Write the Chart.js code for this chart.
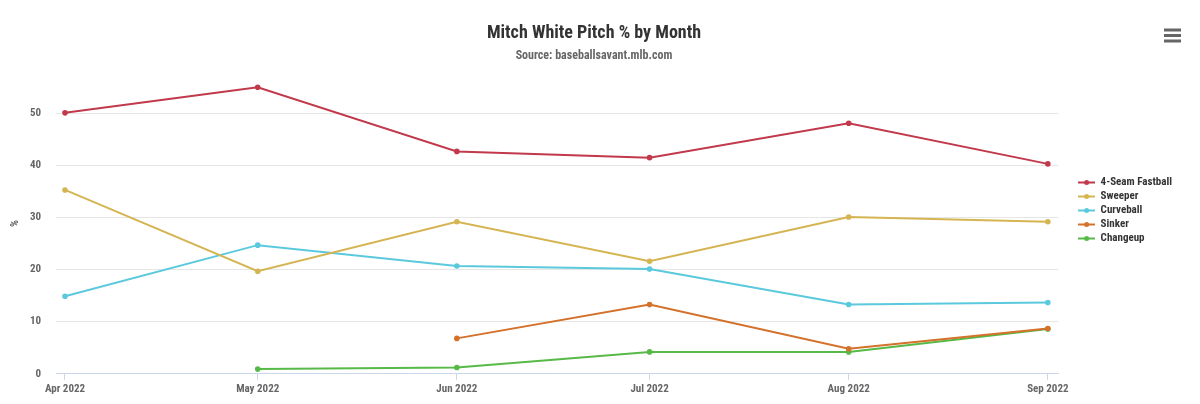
<!DOCTYPE html>
<html><head><meta charset="utf-8">
<script src="https://cdn.jsdelivr.net/npm/chart.js@4.4.1/dist/chart.umd.min.js"></script>
<style>html,body{margin:0;padding:0;background:#fff;}#wrap{width:1200px;height:404px;}</style>
</head><body><div id="wrap"><canvas id="c" width="1200" height="404"></canvas></div>
<script>
// ---- data ----
const months = ['Apr 2022','May 2022','Jun 2022','Jul 2022','Aug 2022','Sep 2022'];
const monthDays = [0, 30, 61, 91, 122, 153]; // days since 1 Apr 2022
const fourSeam  = [50.1, 55.0, 42.7, 41.5, 48.1, 40.3];
const sweeper   = [35.3, 19.7, 29.2, 21.6, 30.1, 29.2];
const curveball = [14.9, 24.7, 20.7, 20.1, 13.3, 13.7];
const sinker    = [null, null, 6.8, 13.3, 4.8, 8.7];
const changeup  = [null, 0.9, 1.2, 4.2, 4.2, 8.6];
const yTicks = [0, 10, 20, 30, 40, 50];
const seriesNames = ['4-Seam Fastball','Sweeper','Curveball','Sinker','Changeup'];
const seriesValues = [fourSeam, sweeper, curveball, sinker, changeup];
const seriesColors = ['#c1394b','#d5b452','#5bc9dd','#d4712b','#57b947'];

const FONT = '"Roboto Condensed", "Liberation Sans Narrow", "DejaVu Sans Condensed", Roboto, sans-serif';

function legendSymbol(color) {
  const c = document.createElement('canvas');
  c.width = 17; c.height = 7;
  const x = c.getContext('2d');
  x.strokeStyle = color; x.lineWidth = 2;
  x.beginPath(); x.moveTo(0, 3.5); x.lineTo(17, 3.5); x.stroke();
  x.fillStyle = color;
  x.beginPath(); x.arc(8.5, 3.5, 2.5, 0, Math.PI * 2); x.fill();
  return c;
}

const datasets = seriesNames.map((name, i) => ({
  label: name,
  data: seriesValues[i].map((v, j) => ({x: monthDays[j], y: v})).filter(p => p.y !== null),
  borderColor: seriesColors[i],
  backgroundColor: seriesColors[i],
  borderWidth: 2,
  pointRadius: 1.8,
  pointHoverRadius: 3,
  tension: 0,
  fill: false
}));

const menuIcon = {
  id: 'menuIcon',
  afterDraw(chart) {
    const ctx = chart.ctx;
    ctx.save();
    ctx.fillStyle = '#666';
    [30, 35.5, 41].forEach(y => ctx.fillRect(1164, y - 1.5, 17, 3));
    ctx.restore();
  }
};

new Chart(document.getElementById('c'), {
  type: 'line',
  data: { datasets },
  plugins: [menuIcon],
  options: {
    responsive: false,
    devicePixelRatio: 1,
    animation: false,
    layout: { padding: { left: 6, right: 18, top: 0, bottom: 5 } },
    plugins: {
      title: {
        display: true,
        text: 'Mitch White Pitch % by Month',
        color: '#333',
        font: { family: FONT, size: 18, weight: 'bold' },
        padding: { top: 23, bottom: 2 }
      },
      subtitle: {
        display: true,
        text: 'Source: baseballsavant.mlb.com',
        color: '#666',
        font: { family: FONT, size: 12, weight: 'bold' },
        padding: { top: 2, bottom: 10 }
      },
      legend: {
        position: 'right',
        title: {
          display: true,
          text: ' ',
          font: { family: FONT, size: 10 },
          padding: { top: 5, bottom: 5 }
        },
        labels: {
          usePointStyle: true,
          pointStyleWidth: 17,
          padding: 3,
          color: '#333',
          font: { family: FONT, size: 11, weight: 'bold' },
          generateLabels(chart) {
            const items = Chart.defaults.plugins.legend.labels.generateLabels(chart);
            items.forEach((it, i) => { it.pointStyle = legendSymbol(seriesColors[i]); });
            return items;
          }
        }
      },
      tooltip: { enabled: false }
    },
    scales: {
      x: {
        type: 'linear',
        min: -1.4,
        max: 154.6,
        afterBuildTicks(scale) { scale.ticks = monthDays.map(v => ({ value: v })); },
        ticks: {
          autoSkip: false,
          maxRotation: 0,
          padding: 3,
          color: '#666',
          font: { family: FONT, size: 11, weight: 'bold' },
          callback(v, i) { return months[i]; }
        },
        grid: { drawOnChartArea: false, drawTicks: true, tickLength: 6, color: '#ccd6eb' },
        border: { display: true, color: '#ccd6eb' }
      },
      y: {
        min: 0,
        max: 57.75,
        afterBuildTicks(scale) { scale.ticks = yTicks.map(v => ({ value: v })); },
        afterFit(scale) { scale.width = 50; },
        ticks: {
          padding: 15,
          color: '#666',
          font: { family: FONT, size: 11, weight: 'bold' }
        },
        grid: { color: '#e6e6e6', drawTicks: false },
        border: { display: false },
        title: {
          display: true,
          text: '%',
          color: '#666',
          font: { family: FONT, size: 11, weight: 'bold' },
          padding: { top: 3, bottom: 4 }
        }
      },
      gap: {
        type: 'linear',
        position: 'right',
        display: true,
        afterFit(scale) { scale.width = 17; },
        ticks: { display: false },
        grid: { display: false, drawTicks: false },
        border: { display: false }
      }
    }
  }
});
</script>
</body></html>
